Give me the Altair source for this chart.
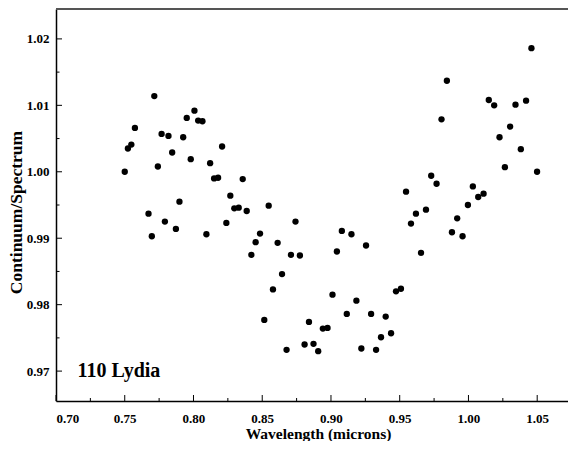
import altair as alt
import pandas as pd

# Data
wavelength = [0.7500, 0.7523, 0.7548, 0.7574, 0.7673, 0.7697, 0.7715, 0.7741, 0.7768, 0.7792,
              0.7818, 0.7845, 0.7872, 0.7898, 0.7925, 0.7951, 0.7980, 0.8007, 0.8034, 0.8065,
              0.8094, 0.8121, 0.8150, 0.8179, 0.8208, 0.8239, 0.8268, 0.8297, 0.8329, 0.8358,
              0.8387, 0.8421, 0.8452, 0.8484, 0.8515, 0.8547, 0.8578, 0.8612, 0.8644, 0.8677,
              0.8709, 0.8742, 0.8774, 0.8808, 0.8840, 0.8873, 0.8907, 0.8941, 0.8975, 0.9011,
              0.9043, 0.9079, 0.9115, 0.9149, 0.9185, 0.9221, 0.9255, 0.9292, 0.9328, 0.9364,
              0.9398, 0.9437, 0.9473, 0.9509, 0.9546, 0.9582, 0.9618, 0.9655, 0.9691, 0.9729,
              0.9768, 0.9804, 0.9843, 0.9880, 0.9918, 0.9957, 0.9996, 1.0032, 1.0071, 1.0110,
              1.0148, 1.0187, 1.0226, 1.0265, 1.0303, 1.0342, 1.0381, 1.0419, 1.0458, 1.0499]
ratio = [1.0000, 1.0035, 1.0041, 1.0066, 0.9937, 0.9903, 1.0114, 1.0008, 1.0057, 0.9925,
         1.0054, 1.0029, 0.9914, 0.9955, 1.0052, 1.0081, 1.0019, 1.0092, 1.0077, 1.0076,
         0.9906, 1.0013, 0.9990, 0.9991, 1.0038, 0.9923, 0.9964, 0.9945, 0.9946, 0.9989,
         0.9941, 0.9875, 0.9894, 0.9907, 0.9777, 0.9949, 0.9823, 0.9893, 0.9846, 0.9732,
         0.9875, 0.9925, 0.9874, 0.9740, 0.9774, 0.9741, 0.9730, 0.9764, 0.9765, 0.9815,
         0.9880, 0.9911, 0.9786, 0.9906, 0.9806, 0.9734, 0.9889, 0.9786, 0.9732, 0.9751,
         0.9782, 0.9757, 0.9820, 0.9824, 0.9970, 0.9922, 0.9937, 0.9878, 0.9943, 0.9994,
         0.9982, 1.0079, 1.0137, 0.9909, 0.9930, 0.9903, 0.9950, 0.9978, 0.9962, 0.9967,
         1.0108, 1.0100, 1.0052, 1.0007, 1.0068, 1.0101, 1.0034, 1.0107, 1.0186, 1.0000]

x_major = [0.70, 0.75, 0.80, 0.85, 0.90, 0.95, 1.00, 1.05]
x_minor = [0.725, 0.775, 0.825, 0.875, 0.925, 0.975, 1.025]
y_major = [0.97, 0.98, 0.99, 1.00, 1.01, 1.02]
y_minor = [0.975, 0.985, 0.995, 1.005, 1.015]
label_text = ["110 Lydia"]

X_DOMAIN = [0.70, 1.0724]
Y_DOMAIN = [0.9655, 1.0245]
W, H = 512, 392
FONT = "Liberation Serif"

df = pd.DataFrame({"wl": wavelength, "r": ratio})
xs = alt.Scale(domain=X_DOMAIN, nice=False, zero=False)
ys = alt.Scale(domain=Y_DOMAIN, nice=False, zero=False)

points = alt.Chart(df).mark_circle(size=40, color="black", opacity=1).encode(
    x=alt.X("wl:Q", scale=xs,
            axis=alt.Axis(values=x_major, format=".2f", ticks=False, tickSize=0,
                          labelPadding=11, labelFont=FONT, labelFontSize=13,
                          labelFontWeight="bold", labelColor="black",
                          domainColor="black", domainWidth=1.5, grid=False,
                          title="Wavelength (microns)", titleFont=FONT, titleFontSize=15.5,
                          titleFontWeight="bold", titleColor="black",
                          titleBaseline="alphabetic", titleY=37, titleX=262)),
    y=alt.Y("r:Q", scale=ys,
            axis=alt.Axis(values=y_major, format=".2f", ticks=False, tickSize=0,
                          labelPadding=7, labelFont=FONT, labelFontSize=13,
                          labelFontWeight="bold", labelColor="black",
                          domainColor="black", domainWidth=1.5, grid=False,
                          title="Continuum/Spectrum", titleFont=FONT, titleFontSize=17.5,
                          titleFontWeight="bold", titleColor="black",
                          titleBaseline="alphabetic", titleX=-35, titleY=203)),
)

xmaj = alt.Chart(pd.DataFrame({"v": x_major})).mark_rule(color="black", strokeWidth=1).encode(
    x=alt.X("v:Q", scale=xs), y=alt.value(H), y2=alt.value(H - 6))
xmin = alt.Chart(pd.DataFrame({"v": x_minor})).mark_rule(color="black", strokeWidth=1).encode(
    x=alt.X("v:Q", scale=xs), y=alt.value(H), y2=alt.value(H - 3))
ymaj = alt.Chart(pd.DataFrame({"v": y_major})).mark_rule(color="black", strokeWidth=1).encode(
    y=alt.Y("v:Q", scale=ys), x=alt.value(0), x2=alt.value(6))
ymin = alt.Chart(pd.DataFrame({"v": y_minor})).mark_rule(color="black", strokeWidth=1).encode(
    y=alt.Y("v:Q", scale=ys), x=alt.value(0), x2=alt.value(3.5))

top_line = alt.Chart(pd.DataFrame({"a": [0]})).mark_rule(color="#555555", strokeWidth=2).encode(
    x=alt.value(0), x2=alt.value(W), y=alt.value(0))

label = alt.Chart(pd.DataFrame({"t": label_text})).mark_text(
    font=FONT, fontSize=20, fontWeight="bold", color="black", align="left",
    baseline="alphabetic").encode(text="t:N", x=alt.value(21.5), y=alt.value(368))

chart = alt.layer(points, xmaj, xmin, ymaj, ymin, top_line, label).properties(
    width=W, height=H,
    autosize=alt.AutoSizeParams(type="none"),
    padding={"left": 48, "top": 1, "right": 0, "bottom": 40},
).configure_view(stroke=None).configure(background="white")

chart.save("out.html", embed_options={"renderer": "svg", "actions": False})
